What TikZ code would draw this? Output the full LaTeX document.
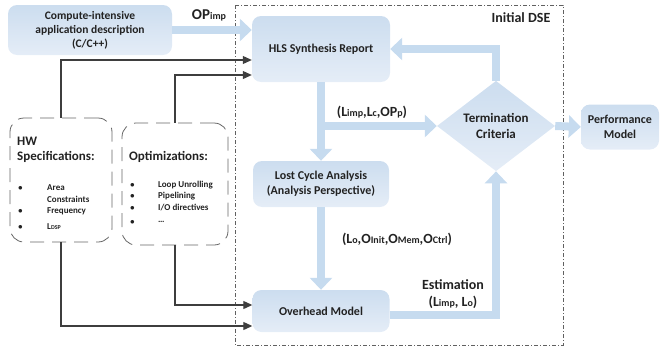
\documentclass[tikz,border=0pt]{standalone}
\usepackage{fontspec}
\setmainfont{Carlito}
\usetikzlibrary{shapes.geometric,arrows.meta}
\definecolor{boxtop}{RGB}{204,221,239}
\definecolor{boxmid}{RGB}{140,177,214}
\definecolor{boxlow}{RGB}{229,237,247}
\definecolor{flowblue}{RGB}{198,219,239}
\definecolor{inkgray}{RGB}{34,34,34}
\definecolor{linegray}{RGB}{62,62,62}
\newcommand{\lowtxt}[1]{{\fontsize{10}{10}\selectfont #1}}

\begin{document}
\begin{tikzpicture}[x=1pt,y=-1pt,
    font=\bfseries\color{inkgray},
    stage/.style={rectangle, rounded corners=9pt, align=center, inner sep=2pt,
        top color=boxtop, middle color=boxmid, bottom color=boxlow,
        font=\fontsize{12}{15}\selectfont\bfseries\color{inkgray}},
    decision/.style={diamond, align=center, inner sep=0pt,
        minimum width=118pt, minimum height=58pt,
        top color=boxtop, middle color=boxmid, bottom color=boxlow,
        font=\fontsize{13}{16}\selectfont\bfseries\color{inkgray}},
    specbox/.style={draw=gray!80!black, line width=0.8pt, dash pattern=on 14pt off 8pt,
        rounded corners=14pt, minimum width=102pt, minimum height=124pt},
    flow/.style={draw=flowblue, line width=8pt, -{Triangle[length=12pt,width=22pt]}},
    feed/.style={draw=linegray, line width=1.1pt, -{Triangle[length=9pt,width=8pt]}},
    tag/.style={font=\fontsize{14}{17}\selectfont\bfseries\color{inkgray}},
    item/.style={anchor=west, inner sep=0pt, font=\fontsize{9}{11}\selectfont\bfseries\color{inkgray}}]
    \useasboundingbox (0,0) rectangle (661,348);

    % Initial DSE frame
    \draw[gray!75!black, line width=0.6pt, dash pattern=on 4pt off 2pt on 1pt off 2pt]
        (235,5) rectangle (563,345);
    \node[tag] (dse) at (521,18) {Initial DSE};

    % Stages
    \node[stage, minimum width=164pt, minimum height=50pt,
        font=\fontsize{11.5}{14}\selectfont\bfseries\color{inkgray}] (app) at (90,30)
        {Compute-intensive\\application description\\(C/C++)};
    \node[stage, minimum width=138pt, minimum height=66pt] (hls) at (321,49) {HLS Synthesis Report};
    \node[stage, minimum width=136pt, minimum height=46pt] (lca) at (321,184)
        {Lost Cycle Analysis\\(Analysis Perspective)};
    \node[stage, minimum width=137pt, minimum height=42pt] (ohm) at (321,311) {Overhead Model};
    \node[decision] (term) at (496,126) {Termination\\Criteria};
    \node[stage, minimum width=78pt, minimum height=45pt] (perf) at (620,127) {Performance\\Model};

    % Dashed input boxes
    \node[specbox] (hw) at (61,180) {};
    \node[specbox, minimum width=106pt, minimum height=122pt] (opt) at (175,184) {};

    % HW specifications
    \node[anchor=west, align=left, inner sep=0pt, font=\fontsize{13}{15}\selectfont\bfseries\color{inkgray}]
        (hwtitle) at (17,150) {HW\\Specifications:};
    \foreach \y/\txt [count=\i] in {188/{Area}, 211/{Frequency}, 227/{L{\fontsize{6}{6}\selectfont DSP}}} {
        \node[item] (hwdot\i) at (18,\y) {$\bullet$};
        \node[item] (hwitem\i) at (47,\y) {\txt};
    }
    \node[item] (hwitem4) at (47,199) {Constraints};

    % Optimizations
    \node[anchor=west, inner sep=0pt, font=\fontsize{13}{15}\selectfont\bfseries\color{inkgray}]
        (opttitle) at (129,157) {Optimizations:};
    \foreach \y/\txt [count=\i] in {185/{Loop Unrolling}, 196/{Pipelining}, 208/{I/O directives}, 222/{\ldots}} {
        \node[item] (optdot\i) at (130,\y) {$\bullet$};
        \node[item] (optitem\i) at (158,\y) {\txt};
    }

    % Main flow
    \draw[flow] (app.east) -- (hls.west |- app.east);
    \draw[flow] (hls.south) -- (lca.north);
    \coordinate (split) at (hls.south |- term.west);
    \draw[flow] (split) -- (term.west);
    \draw[flow] (lca.south) -- (ohm.north);
    \draw[flow] ([yshift=-4pt]ohm.east) -| (term.south);
    \draw[flow] (term.north) |- (hls.east);
    \draw[flow] (term.east) -- (perf.west);

    % Inputs from the dashed boxes
    \draw[feed] (hw.north) |- ([yshift=-11pt]hls.west);
    \draw[feed] (opt.north) |- ([yshift=-26pt]hls.west);
    \draw[feed] (hw.south) |- ([yshift=-15pt]ohm.west);
    \draw[feed] (opt.south) |- ([yshift=6pt]ohm.west);

    % Edge labels
    \node[tag, font=\fontsize{15}{17}\selectfont\bfseries\color{inkgray}] (opimp) at (209,15) {OP\lowtxt{imp}};
    \node[tag] (hlsout) at (372,112) {(L\lowtxt{imp},L\lowtxt{c},OP\lowtxt{p})};
    \node[tag] (lcaout) at (397,239) {(L\lowtxt{o},O\lowtxt{Init},O\lowtxt{Mem},O\lowtxt{Ctrl})};
    \node[tag, align=center] (est) at (453,294) {Estimation\\(L\lowtxt{imp}, L\lowtxt{o})};
\end{tikzpicture}
\end{document}
